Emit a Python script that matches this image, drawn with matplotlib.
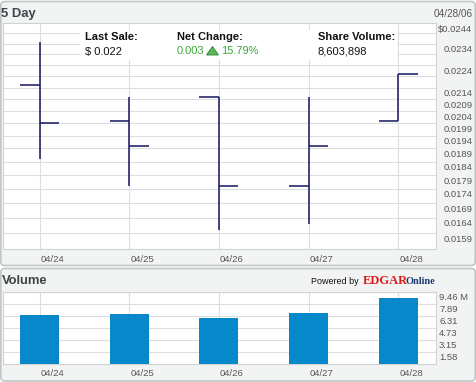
import matplotlib
matplotlib.use("Agg")
import matplotlib.pyplot as plt
from matplotlib.patches import FancyBboxPatch, Rectangle, Polygon
from matplotlib.ticker import FixedLocator, NullFormatter, NullLocator

# ---------------- data ----------------
dates = ["04/24", "04/25", "04/26", "04/27", "04/28"]
price_open = [0.0215, 0.0200, 0.0210, 0.0175, 0.0200]
price_high = [0.0235, 0.0210, 0.0210, 0.0210, 0.0220]
price_low = [0.0185, 0.0175, 0.0160, 0.0162, 0.0200]
price_close = [0.0199, 0.0190, 0.0175, 0.0190, 0.0220]
volume_m = [6.37, 6.50, 6.02, 6.67, 8.60]

price_ticks = [0.0244, 0.0234, 0.0224, 0.0214, 0.0209, 0.0204, 0.0199, 0.0194,
               0.0189, 0.0184, 0.0179, 0.0174, 0.0169, 0.0164, 0.0159]
price_labels = ["$0.0244", "0.0234", "0.0224", "0.0214", "0.0209", "0.0204",
                "0.0199", "0.0194", "0.0189", "0.0184", "0.0179", "0.0174",
                "0.0169", "0.0164", "0.0159"]
price_grid = [0.0244 - 0.0005 * k for k in range(1, 18)]
price_range = (0.0154, 0.0244)

vol_ticks = [9.46, 7.89, 6.31, 4.73, 3.15, 1.58]
vol_labels = ["9.46 M", "7.89", "6.31", "4.73", "3.15", "1.58"]
vol_range = (0, 9.46)

title_top = "5 Day"
title_date = "04/28/06"
title_bottom = "Volume"
last_sale_label, last_sale_value = "Last Sale:", "$ 0.022"
net_label, net_value, net_pct = "Net Change:", "0.003", "15.79%"
vol_label, vol_value = "Share Volume:", "8,603,898"

# ---------------- style ----------------
W, H = 476, 382
FONT = "Liberation Sans"
plt.rcParams["font.family"] = [FONT, "DejaVu Sans"]
GRID = "#dcdfdf"
SPINE = "#cfd3d3"
TICKC = "#555555"
OHLC = "#161660"
BAR = "#0788cb"
GREEN = "#3aa83a"

fig = plt.figure(figsize=(W / 100, H / 100), dpi=100)
fig.patch.set_facecolor("white")


def rect(x0, y0, x1, y1):
    return [x0 / W, 1 - y1 / H, (x1 - x0) / W, (y1 - y0) / H]


# background panels
bg = fig.add_axes([0, 0, 1, 1], zorder=-1)
bg.set_xlim(0, W)
bg.set_ylim(H, 0)
bg.axis("off")
for (y0, y1) in [(1.5, 265.5), (268.5, 381)]:
    bg.add_patch(FancyBboxPatch((0.8, y0), W - 1.6, y1 - y0,
                                boxstyle="round,pad=0,rounding_size=4",
                                facecolor="#f2f4f4", edgecolor="#c2c6c6", lw=1.2))

# ---------------- price panel ----------------
ax = fig.add_axes(rect(3, 23.3, 435.5, 248.8), zorder=1)
ax.set_facecolor("white")
ax.set_yscale("log")
ax.set_ylim(*price_range)
ax.set_xlim(-0.407, 4.415)
ax.yaxis.set_major_locator(FixedLocator(price_grid))
ax.yaxis.set_major_formatter(NullFormatter())
ax.yaxis.set_minor_locator(NullLocator())
ax.yaxis.set_minor_formatter(NullFormatter())
ax.set_xticks(range(len(dates)))
ax.set_xticklabels([])
ax.tick_params(length=0)
ax.grid(True, color=GRID, lw=0.8)
ax.set_axisbelow(True)
for s in ax.spines.values():
    s.set_color(SPINE)
    s.set_linewidth(0.8)

xs = list(range(len(dates)))
tick_w = 0.217
ax.vlines(xs, price_low, price_high, color=OHLC, lw=1.1, zorder=3)
ax.hlines(price_open, [x - tick_w for x in xs], xs, color=OHLC, lw=1.1, zorder=3)
ax.hlines(price_close, xs, [x + tick_w for x in xs], color=OHLC, lw=1.1, zorder=3)

# white info box behind header values
ax.add_patch(Rectangle((80 / W, 1 - 60 / H), (397 - 80) / W, 30 / H,
                       transform=fig.transFigure, facecolor="white",
                       edgecolor="none", zorder=1))

for v, lab in zip(price_ticks, price_labels):
    ax.annotate(lab, xy=(1, v), xycoords=("axes fraction", "data"),
                xytext=(37, -6), textcoords="offset pixels",
                ha="right", va="center", fontsize=6.8, color=TICKC,
                annotation_clip=False)
for x, d in zip(xs, dates):
    ax.annotate(d, xy=(x, 0), xycoords=("data", "axes fraction"),
                xytext=(1, -10.5), textcoords="offset pixels",
                ha="left", va="center", fontsize=6.8, color=TICKC,
                annotation_clip=False)

# ---------------- volume panel ----------------
vax = fig.add_axes(rect(3, 291.7, 436, 364), zorder=1)
vax.set_facecolor("white")
vax.set_ylim(*vol_range)
vax.set_xlim(-0.407, 4.42)
vax.set_yticks(vol_ticks)
vax.set_yticklabels([])
vax.set_xticks(xs)
vax.set_xticklabels([])
vax.tick_params(length=0)
vax.grid(True, color=GRID, lw=0.8)
vax.set_axisbelow(True)
for s in vax.spines.values():
    s.set_color(SPINE)
    s.set_linewidth(0.8)
vax.bar(xs, volume_m, width=0.4345, color=BAR, zorder=3)

for v, lab in zip(vol_ticks, vol_labels):
    vax.annotate(lab, xy=(1, v), xycoords=("axes fraction", "data"),
                 xytext=(3, -6), textcoords="offset pixels",
                 ha="left", va="center", fontsize=6.8, color=TICKC,
                 annotation_clip=False)
for x, d in zip(xs, dates):
    vax.annotate(d, xy=(x, 0), xycoords=("data", "axes fraction"),
                 xytext=(1, -9.5), textcoords="offset pixels",
                 ha="left", va="center", fontsize=6.8, color=TICKC,
                 annotation_clip=False)

# ---------------- overlay texts ----------------
ov = fig.add_axes([0, 0, 1, 1], zorder=5)
ov.set_xlim(0, W)
ov.set_ylim(H, 0)
ov.axis("off")
ov.patch.set_alpha(0)

ov.text(1, 13.5, title_top, fontsize=9.4, fontweight="bold", color="#3f4347",
        ha="left", va="center")
ov.text(472.5, 14, title_date, fontsize=7.2, color="#555555", ha="right", va="center")
ov.text(1.5, 281.5, title_bottom, fontsize=9.4, fontweight="bold", color="#3f4347",
        ha="left", va="center")

ov.text(85, 37.5, last_sale_label, fontsize=8, fontweight="bold", color="#111111",
        ha="left", va="center")
ov.text(85, 51.5, last_sale_value, fontsize=8, color="#111111", ha="left", va="center")
ov.text(177, 37.5, net_label, fontsize=8, fontweight="bold", color="#111111",
        ha="left", va="center")
ov.text(177, 51.5, net_value, fontsize=8, color=GREEN, ha="left", va="center")
ov.add_patch(Polygon([(206.5, 55), (218.5, 55), (212.5, 46.5)], closed=True,
                     facecolor="#58b858", edgecolor="#2f7f2f", lw=0.6))
ov.text(221, 51.5, net_pct, fontsize=8, color=GREEN, ha="left", va="center")
ov.text(318, 37.5, vol_label, fontsize=8, fontweight="bold", color="#111111",
        ha="left", va="center")
ov.text(318, 51.5, vol_value, fontsize=8, color="#111111", ha="left", va="center")

ov.text(311, 281.5, "Powered by", fontsize=6.5, color="#111111", ha="left", va="center")
ov.text(362.5, 280.5, "EDGAR", fontsize=9.0, fontweight="bold", color="#dd1a1a",
        family=["Liberation Serif", "DejaVu Serif"], ha="left", va="center")
ov.text(405.5, 282, "Online", fontsize=7.4, fontweight="bold", color="#1d3a70",
        family=["Liberation Serif", "DejaVu Serif"], ha="left", va="center")

fig.savefig("out.png", dpi=100, facecolor=fig.get_facecolor())
